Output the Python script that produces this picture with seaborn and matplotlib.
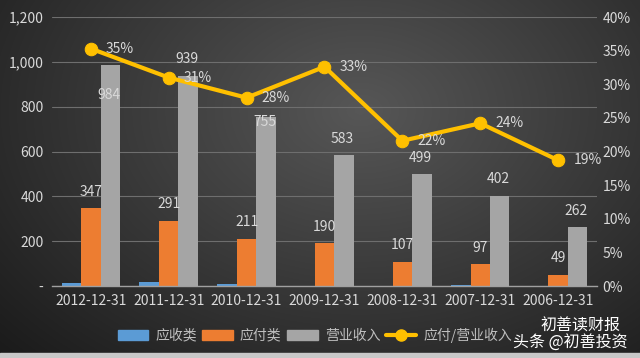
import numpy as np
import pandas as pd
import matplotlib
matplotlib.use("Agg")
import matplotlib.pyplot as plt
import seaborn as sns
from matplotlib.patches import Patch
from matplotlib.lines import Line2D
from matplotlib.ticker import FuncFormatter

dates = ["2012-12-31", "2011-12-31", "2010-12-31", "2009-12-31",
         "2008-12-31", "2007-12-31", "2006-12-31"]
receivable = [13, 18, 8, 2, 2, 3, 1]
payable = [347, 291, 211, 190, 107, 97, 49]
revenue = [984, 939, 755, 583, 499, 402, 262]
ratio = [0.353, 0.310, 0.280, 0.326, 0.216, 0.242, 0.187]
series_names = ["应收类", "应付类", "营业收入", "应付/营业收入"]
left_ticks = [0, 200, 400, 600, 800, 1000, 1200]
right_ticks = [0, 0.05, 0.10, 0.15, 0.20, 0.25, 0.30, 0.35, 0.40]

sns.set_theme(style="dark")
plt.rcParams['font.family'] = ['Noto Sans CJK SC', 'DejaVu Sans']

colors = ["#5B9BD5", "#ED7D31", "#A5A5A5"]
line_color = "#FFC000"
txt = "#D9D9D9"

fig = plt.figure(figsize=(6.4, 3.58), dpi=100)

# background radial gradient
bg = fig.add_axes([0, 0, 1, 1], zorder=-10)
yy, xx = np.mgrid[0:358, 0:640]
d = np.sqrt(((xx - 360) / 420.0) ** 2 + ((yy - 110) / 300.0) ** 2)
v = np.clip(0.34 - 0.20 * d, 0.10, 0.34)
bg.imshow(np.dstack([v, v, v]), aspect='auto', extent=[0, 1, 0, 1])
bg.axis('off')
bg.set_xlim(0, 1); bg.set_ylim(0, 1)
bg.axhspan(0, 0.015, color="#C8C8C8")

ax = fig.add_axes([0.081, 0.201, 0.852, 0.7515])
ax.set_facecolor("none")

df = pd.DataFrame({
    "date": dates * 3,
    "value": receivable + payable + revenue,
    "series": [series_names[0]] * 7 + [series_names[1]] * 7 + [series_names[2]] * 7,
})
sns.barplot(data=df, x="date", y="value", hue="series", order=dates,
            hue_order=series_names[:3], palette=colors, width=0.75,
            ax=ax, legend=False, saturation=1, edgecolor="none")

ax.set_ylim(0, 1200)
ax.set_yticks(left_ticks)
ax.yaxis.set_major_formatter(FuncFormatter(lambda v, p: "-" if v == 0 else f"{int(v):,}"))
ax.set_xlabel(""); ax.set_ylabel("")
ax.grid(axis='y', color="#6E6E6E", linewidth=0.8)
ax.grid(axis='x', visible=False)
for s in ["top", "right", "left"]:
    ax.spines[s].set_visible(False)
ax.spines["bottom"].set_visible(True)
ax.spines["bottom"].set_color("#A0A0A0")
ax.spines["bottom"].set_linewidth(1.0)
ax.tick_params(axis='both', colors=txt, labelsize=10, length=0, pad=6)
ax.set_xlim(-0.5, 6.5)

bw = 0.25
# bar labels
pay_off = [12, 12, 12, 12, 12, 12, 12]
rev_off = [-21, 12, -4, 12, 12, 12, 12]
for i in range(7):
    ax.annotate(f"{payable[i]}", (i, payable[i]), xytext=(0, pay_off[i]),
                textcoords="offset points", ha="center", va="center",
                color=txt, fontsize=10)
    ax.annotate(f"{revenue[i]}", (i + bw, revenue[i]), xytext=(-1, rev_off[i]),
                textcoords="offset points", ha="center", va="center",
                color=txt, fontsize=10)

ax2 = ax.twinx()
sns.lineplot(x=np.arange(7), y=ratio, ax=ax2, color=line_color, linewidth=3,
             marker="o", markersize=9, markeredgecolor=line_color)
ax2.set_ylim(0, 0.40)
ax2.set_yticks(right_ticks)
ax2.yaxis.set_major_formatter(FuncFormatter(lambda v, p: f"{v*100:.0f}%"))
ax2.tick_params(axis='y', colors=txt, labelsize=10, length=0, pad=4)
ax2.grid(False)
for s in ax2.spines.values():
    s.set_visible(False)
ax2.set_facecolor("none")
for i in range(7):
    ax2.annotate(f"{ratio[i]*100:.0f}%", (i, ratio[i]), xytext=(11, 0),
                 textcoords="offset points", ha="left", va="center",
                 color=txt, fontsize=10)

handles = [Patch(color=colors[0]), Patch(color=colors[1]), Patch(color=colors[2]),
           Line2D([0], [0], color=line_color, linewidth=3, marker="o", markersize=8)]
fig.legend(handles, series_names, loc="center", bbox_to_anchor=(0.492, 0.064),
           ncol=4, frameon=False, fontsize=10, labelcolor="#BFBFBF",
           handlelength=2.2, columnspacing=0.4, handletextpad=0.5)

fig.text(0.97, 0.09, "初善读财报", color="white", fontsize=11.5, ha="right", va="center")
fig.text(0.98, 0.04, "头条 @初善投资", color="white", fontsize=11.5, ha="right", va="center")

fig.savefig("out.png", dpi=100)
